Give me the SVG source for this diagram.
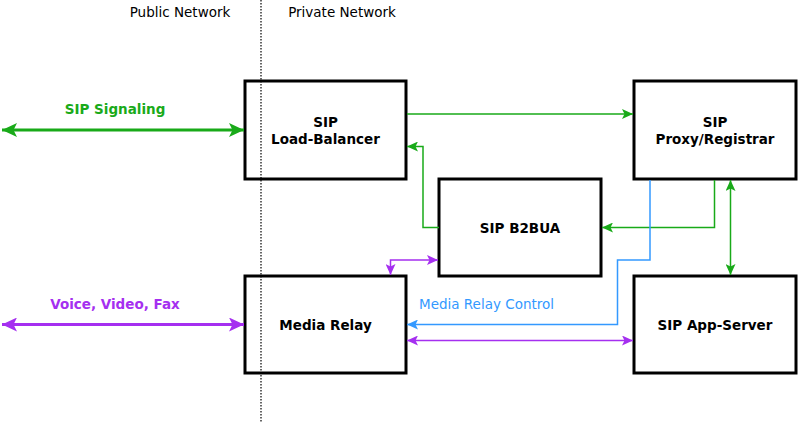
<svg xmlns="http://www.w3.org/2000/svg" width="800" height="425" viewBox="0 0 800 425">
<style>
.box{fill:#fff;stroke:#000;stroke-width:3}
.lbl{font-family:"DejaVu Sans",sans-serif;font-size:13.5px;font-weight:bold;fill:#000;text-anchor:middle}
.hdr{font-family:"DejaVu Sans",sans-serif;font-size:13.5px;fill:#000;text-anchor:middle}
.g{stroke:#19aa19;fill:none}
.p{stroke:#a52ff0;fill:none}
.b{stroke:#3399ff;fill:none}
.thin{stroke-width:1.5}
.thick{stroke-width:3}
</style>
<defs>
<marker id="gS" markerUnits="userSpaceOnUse" markerWidth="11" markerHeight="10" refX="11" refY="5" orient="auto-start-reverse"><path d="M0,0 L11,5 L0,10 L2.5,5 Z" fill="#19aa19"/></marker>
<marker id="gL" markerUnits="userSpaceOnUse" markerWidth="15" markerHeight="14" refX="15" refY="7" orient="auto-start-reverse"><path d="M0,0 L15,7 L0,14 L3.5,7 Z" fill="#19aa19"/></marker>
<marker id="pS" markerUnits="userSpaceOnUse" markerWidth="11" markerHeight="10" refX="11" refY="5" orient="auto-start-reverse"><path d="M0,0 L11,5 L0,10 L2.5,5 Z" fill="#a52ff0"/></marker>
<marker id="pL" markerUnits="userSpaceOnUse" markerWidth="15" markerHeight="14" refX="15" refY="7" orient="auto-start-reverse"><path d="M0,0 L15,7 L0,14 L3.5,7 Z" fill="#a52ff0"/></marker>
<marker id="bS" markerUnits="userSpaceOnUse" markerWidth="11" markerHeight="10" refX="11" refY="5" orient="auto-start-reverse"><path d="M0,0 L11,5 L0,10 L2.5,5 Z" fill="#3399ff"/></marker>
</defs>
<rect width="800" height="425" fill="#fff"/>
<g id="headers">
<text class="hdr" x="180" y="17">Public Network</text>
<text class="hdr" x="342" y="17">Private Network</text>
</g>
<g id="nodes">
<g id="lb"><rect class="box" x="245" y="81" width="161" height="98"/><text class="lbl" x="325.5" y="127">SIP</text><text class="lbl" x="325.5" y="144">Load-Balancer</text></g>
<g id="proxy"><rect class="box" x="634" y="81" width="162" height="98"/><text class="lbl" x="715" y="127">SIP</text><text class="lbl" x="715" y="144">Proxy/Registrar</text></g>
<g id="b2bua"><rect class="box" x="439" y="179" width="162" height="97"/><text class="lbl" x="520" y="233">SIP B2BUA</text></g>
<g id="relay"><rect class="box" x="245" y="276" width="161" height="97"/><text class="lbl" x="325.5" y="330">Media Relay</text></g>
<g id="app"><rect class="box" x="634" y="276" width="162" height="97"/><text class="lbl" x="715" y="330">SIP App-Server</text></g>
</g>
<line x1="261" y1="0" x2="261" y2="422" stroke="#000" stroke-width="1.2" stroke-dasharray="1.5,1.5"/>
<g id="connectors">
<path class="g thick" d="M2,130 H244" marker-start="url(#gL)" marker-end="url(#gL)"/>
<path class="p thick" d="M2,324.5 H244" marker-start="url(#pL)" marker-end="url(#pL)"/>
<path class="g thin" d="M407,114 H633" marker-end="url(#gS)"/>
<path class="g thin" d="M439,227.5 H423 V146.5 H407" marker-end="url(#gS)"/>
<path class="g thin" d="M714.5,180 V227.5 H602" marker-end="url(#gS)"/>
<path class="g thin" d="M730.5,180 V275" marker-start="url(#gS)" marker-end="url(#gS)"/>
<path class="b thin" d="M650,180 V260 H617.5 V324.5 H407" marker-end="url(#bS)"/>
<path class="p thin" d="M438,260 H390.5 V275" marker-start="url(#pS)" marker-end="url(#pS)"/>
<path class="p thin" d="M407,340.5 H633" marker-start="url(#pS)" marker-end="url(#pS)"/>
</g>
<g id="labels">
<text class="lbl" x="115" y="114" style="fill:#19aa19">SIP Signaling</text>
<text class="lbl" x="115" y="309" style="fill:#a52ff0">Voice, Video, Fax</text>
<text x="419" y="308.5" style="font-family:'DejaVu Sans',sans-serif;font-size:13.5px;fill:#3399ff">Media Relay Control</text>
</g>
</svg>
